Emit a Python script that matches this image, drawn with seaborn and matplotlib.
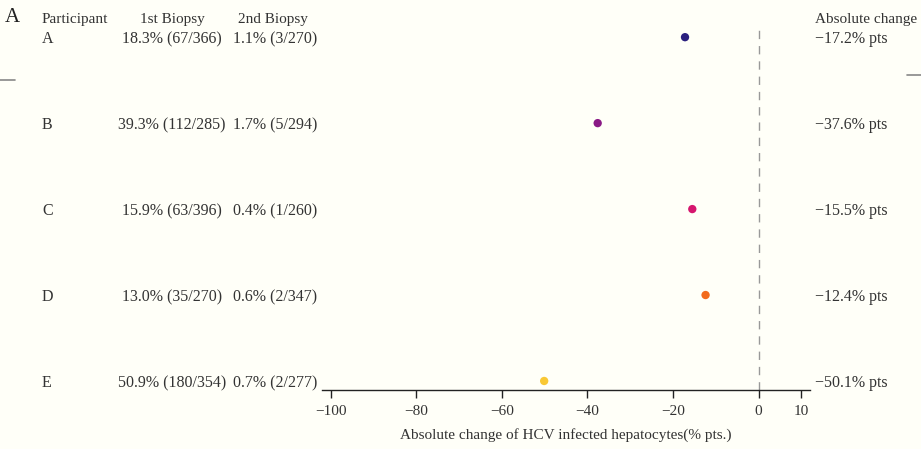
import matplotlib
matplotlib.use("Agg")
import matplotlib.pyplot as plt
import matplotlib.transforms as mtransforms
from matplotlib.lines import Line2D
import seaborn as sns
import pandas as pd

participants = ["A", "B", "C", "D", "E"]
first_biopsy = ["18.3% (67/366)", "39.3% (112/285)", "15.9% (63/396)", "13.0% (35/270)", "50.9% (180/354)"]
second_biopsy = ["1.1% (3/270)", "1.7% (5/294)", "0.4% (1/260)", "0.6% (2/347)", "0.7% (2/277)"]
abs_change = [-17.2, -37.6, -15.5, -12.4, -50.1]
change_labels = ["\u221217.2% pts", "\u221237.6% pts", "\u221215.5% pts", "\u221212.4% pts", "\u221250.1% pts"]
colors = ["#2a1f7e", "#8a1a86", "#d6166e", "#f26a1c", "#f9c834"]
xticks = [-100, -80, -60, -40, -20, 0, 10]

sns.set_theme(style="white")
plt.rcParams["font.family"] = ["Liberation Serif", "DejaVu Serif"]
bg = "#fffff8"
txt = "#333333"

fig = plt.figure(figsize=(9.21, 4.49), dpi=100, facecolor=bg)
ax = fig.add_axes([0.3496, 0.1314, 0.8795 - 0.3496, 0.944 - 0.1314])
ax.set_facecolor(bg)

df = pd.DataFrame({"participant": participants, "change": abs_change})
sns.scatterplot(data=df, x="change", y="participant", hue="participant",
                palette=colors, s=36, edgecolor="none", legend=False, ax=ax, zorder=3)

ax.axvline(0, color="#999999", lw=1.0, ls=(0, (6, 5)), zorder=1)
ax.set_xlim(-102, 12)
ax.set_ylim(4.105, -0.14)
ax.set_xticks(xticks)
ax.set_xticklabels([str(t).replace("-", "\u2212") for t in xticks], fontsize=11, color=txt)
ax.set_yticks([])
ax.set_ylabel("")
ax.set_xlabel("Absolute change of HCV infected hepatocytes(% pts.)", fontsize=11, color=txt, labelpad=7)
for s in ["top", "right", "left"]:
    ax.spines[s].set_visible(False)
ax.spines["bottom"].set_color("#222222")
ax.spines["bottom"].set_linewidth(1.0)
ax.tick_params(axis="x", direction="out", length=6, width=1.0, color="#222222", pad=5, bottom=True)

tr = mtransforms.blended_transform_factory(fig.transFigure, ax.transData)
fs = 11.5
dy = 0.025
for i in range(len(participants)):
    ax.text(42 / 921, i + dy, participants[i], transform=tr, ha="left", va="center", fontsize=fs, color=txt)
    ax.text(172 / 921, i + dy, first_biopsy[i], transform=tr, ha="center", va="center", fontsize=fs, color=txt)
    ax.text(275 / 921, i + dy, second_biopsy[i], transform=tr, ha="center", va="center", fontsize=fs, color=txt)
    ax.text(815 / 921, i + dy, change_labels[i], transform=tr, ha="left", va="center", fontsize=fs, color=txt)

hy = 1 - 19 / 449
fig.text(42 / 921, hy, "Participant", ha="left", va="center", fontsize=11, color=txt)
fig.text(172 / 921, hy, "1st Biopsy", ha="center", va="center", fontsize=11, color=txt)
fig.text(273 / 921, hy, "2nd Biopsy", ha="center", va="center", fontsize=11, color=txt)
fig.text(815 / 921, hy, "Absolute change", ha="left", va="center", fontsize=11, color=txt)
fig.text(5 / 921, 1 - 17 / 449, "A", ha="left", va="center", fontsize=15, color="#222222")

fig.add_artist(Line2D([0, 15 / 921], [1 - 80 / 449] * 2, transform=fig.transFigure, color="#888888", lw=1.2))
fig.add_artist(Line2D([907 / 921, 1], [1 - 75 / 449] * 2, transform=fig.transFigure, color="#888888", lw=1.2))

fig.savefig("out.png", dpi=100, facecolor=bg)
